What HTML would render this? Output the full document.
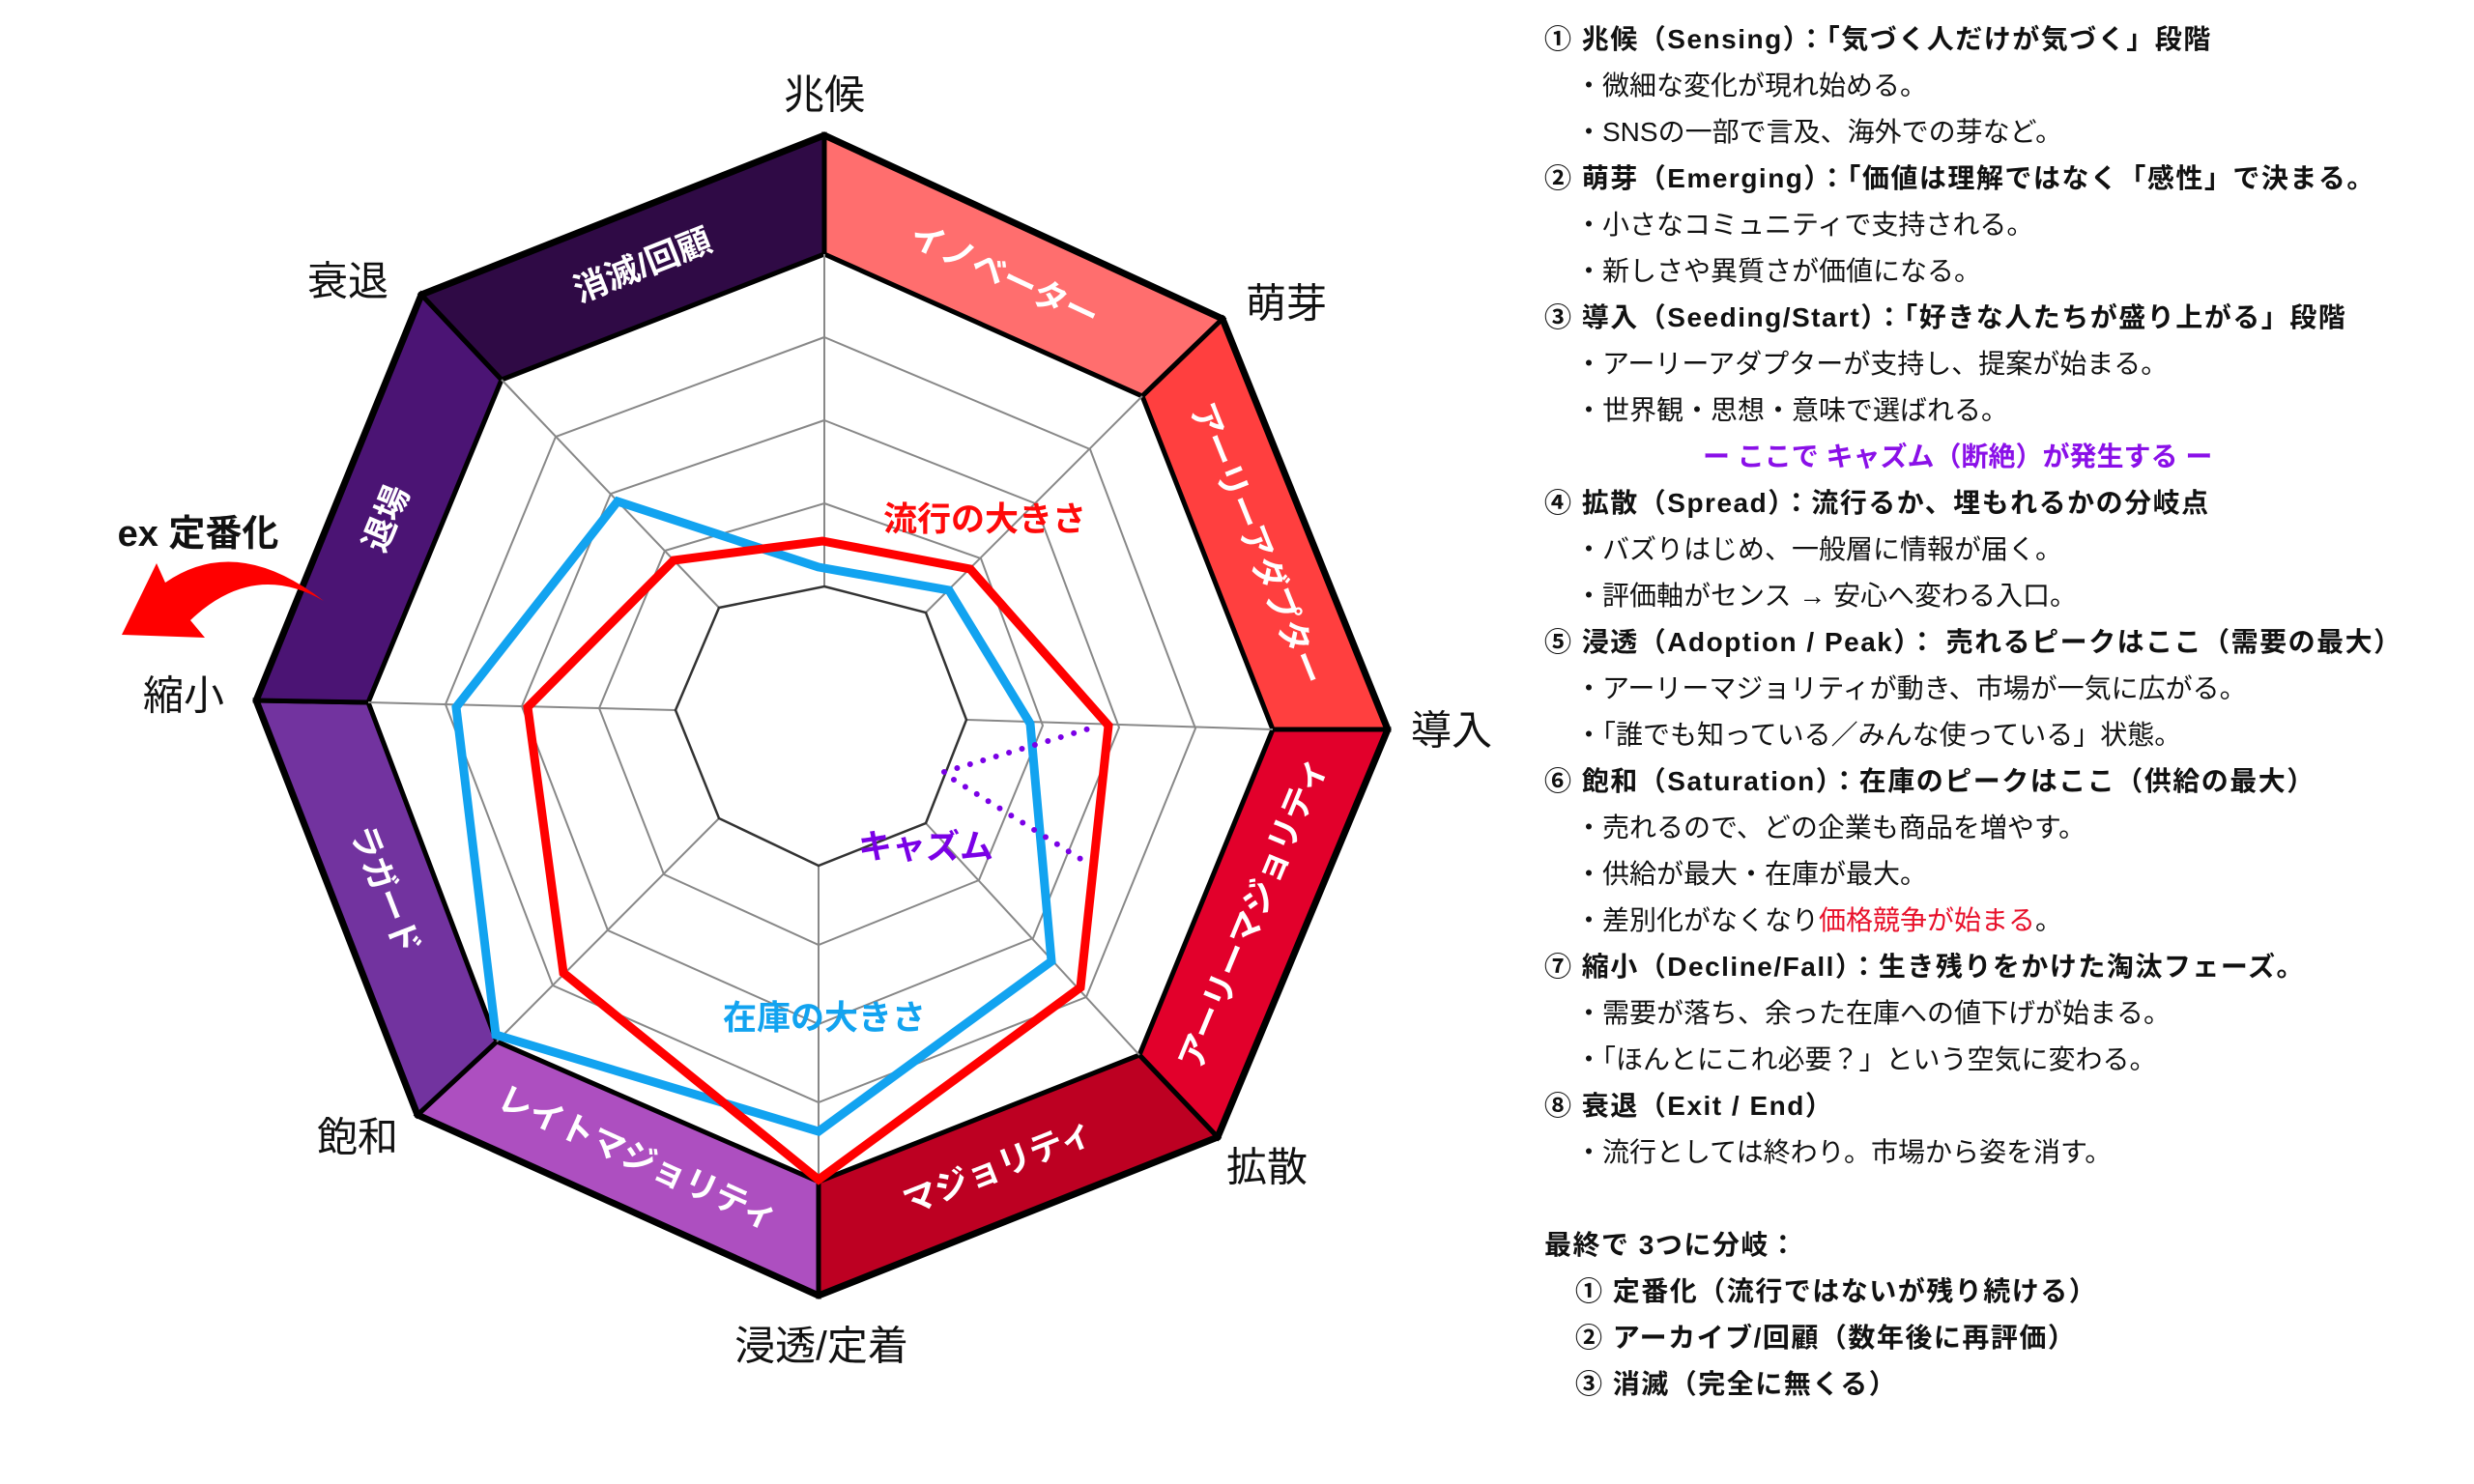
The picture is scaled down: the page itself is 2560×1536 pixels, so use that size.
<!DOCTYPE html>
<html><head><meta charset="utf-8">
<style>
html,body{margin:0;padding:0;background:#fff;}
#wrap{position:relative;width:2560px;height:1536px;overflow:hidden;background:#fff;font-family:"Liberation Sans","Noto Sans CJK JP",sans-serif;}
svg{position:absolute;left:0;top:0;}
.t{position:absolute;white-space:nowrap;font-size:28px;line-height:48px;color:#111;}
.h{font-weight:bold;left:1598px;letter-spacing:1.5px;}
.b{left:1630px;}
.red{color:#e8102a;}
</style></head><body><div id="wrap">
<svg width="2560" height="1536" viewBox="0 0 2560 1536" font-family="Liberation Sans, Noto Sans CJK JP, sans-serif">
<g stroke="#000" stroke-width="5" stroke-linejoin="miter">
<polygon points="853,140 1265,330 1182,410 853,263" fill="#ff6e6e"/>
<polygon points="1265,330 1436,755 1317,755 1182,410" fill="#ff3f3f"/>
<polygon points="1436,755 1260,1177 1179,1092 1317,755" fill="#e2002b"/>
<polygon points="1260,1177 847,1341 847,1223 1179,1092" fill="#bd0022"/>
<polygon points="847,1341 432,1154 514,1078 847,1223" fill="#ad4fc0"/>
<polygon points="432,1154 265,725 381,727 514,1078" fill="#72339f"/>
<polygon points="265,725 436,305 519,393 381,727" fill="#4b1474"/>
<polygon points="436,305 853,140 853,263 519,393" fill="#2f0a45"/>
</g>
<polygon points="853,140 1265,330 1436,755 1260,1177 847,1341 432,1154 265,725 436,305" fill="none" stroke="#000" stroke-width="7" stroke-linejoin="miter"/>
<g fill="none" stroke="#888" stroke-width="2">
<polygon points="853,521 1015,578 1079,751 1013,911 847,978 687,905 620,733 688,570"/>
<polygon points="853,435 1071,521 1158,753 1069,971 847,1060 629,963 540,731 632,511"/>
<polygon points="853,349 1128,465 1237,754 1124,1032 847,1141 572,1020 461,729 575,452"/>
<line x1="853" y1="607" x2="853" y2="263"/>
<line x1="958" y1="634" x2="1182" y2="410"/>
<line x1="1000" y1="745" x2="1317" y2="755"/>
<line x1="958" y1="852" x2="1179" y2="1092"/>
<line x1="847" y1="896" x2="847" y2="1223"/>
<line x1="744" y1="847" x2="514" y2="1078"/>
<line x1="699" y1="735" x2="381" y2="727"/>
<line x1="744" y1="629" x2="519" y2="393"/>
</g>
<polygon points="853,607 958,634 1000,745 958,852 847,896 744,847 699,735 744,629" fill="none" stroke="#333" stroke-width="2.5"/>
<polygon points="847,587 982,611 1066,749 1088,995 847,1171 513,1071 472,732 639,519" fill="none" stroke="#12a3f0" stroke-width="9" stroke-linejoin="miter"/>
<polygon points="851,560 1004,589 1147,751 1118,1022 847,1221 583,1007 546,732 697,580" fill="none" stroke="#ff0000" stroke-width="9" stroke-linejoin="miter"/>
<g stroke="#7a00e6" stroke-width="6" stroke-linecap="round" stroke-dasharray="0 14">
<line x1="977" y1="799" x2="1131" y2="753"/>
<line x1="987" y1="807" x2="1123" y2="892"/>
</g>
<g fill="#fff" font-weight="bold" font-size="35" text-anchor="middle" dominant-baseline="central">
<text transform="translate(1039,286) rotate(25)">イノベーター</text>
<text transform="translate(1300,563) rotate(68)">アーリーアダプター</text>
<text transform="translate(1297,945) rotate(-67.5)">アーリーマジョリティ</text>
<text transform="translate(1033,1208) rotate(-21.7)">マジョリティ</text>
<text transform="translate(660,1199) rotate(24.3)">レイトマジョリティ</text>
<text transform="translate(398,921) rotate(68.7)">ラガード</text>
<text transform="translate(400,537) rotate(-67.5)">退場</text>
<text transform="translate(665,275) rotate(-21.6)">消滅/回顧</text>
</g>
<g fill="#111" font-size="42" text-anchor="middle" dominant-baseline="central">
<text x="853" y="98">兆候</text>
<text x="1331" y="314">萌芽</text>
<text x="1502" y="756">導入</text>
<text x="1311" y="1208">拡散</text>
<text x="850" y="1393">浸透/定着</text>
<text x="370" y="1177">飽和</text>
<text x="190" y="720">縮小</text>
<text x="360" y="291">衰退</text>
</g>
<g font-weight="bold" font-size="35" text-anchor="middle" dominant-baseline="central">
<text x="1019" y="538" fill="#ff0a0a">流行の大きさ</text>
<text x="958" y="877" fill="#7a00e6">キャズム</text>
<text x="853" y="1054" fill="#12a3f0">在庫の大きさ</text>
</g>
<text x="205" y="553" font-weight="bold" font-size="38" fill="#111" text-anchor="middle" dominant-baseline="central">ex 定番化</text>
<path d="M126,657 L162,583 L171,603 Q245,552 335,622 Q262,580 197,642 L212,660 Z" fill="#ff0000"/>
</svg>

<div class="t h" style="top:17px">① 兆候（Sensing）：「気づく人だけが気づく」段階</div>
<div class="t b" style="top:65px">・微細な変化が現れ始める。</div>
<div class="t b" style="top:113px">・SNSの一部で言及、海外での芽など。</div>
<div class="t h" style="top:161px">② 萌芽（Emerging）：「価値は理解ではなく「感性」で決まる。</div>
<div class="t b" style="top:209px">・小さなコミュニティで支持される。</div>
<div class="t b" style="top:257px">・新しさや異質さが価値になる。</div>
<div class="t h" style="top:305px">③ 導入（Seeding/Start）：「好きな人たちが盛り上がる」段階</div>
<div class="t b" style="top:353px">・アーリーアダプターが支持し、提案が始まる。</div>
<div class="t b" style="top:401px">・世界観・思想・意味で選ばれる。</div>
<div class="t" style="top:449px;left:1762px;font-weight:bold;color:#8a10e8">ー ここで キャズム（断絶）が発生する ー</div>
<div class="t h" style="top:497px">④ 拡散（Spread）：流行るか、埋もれるかの分岐点</div>
<div class="t b" style="top:545px">・バズりはじめ、一般層に情報が届く。</div>
<div class="t b" style="top:593px">・評価軸がセンス → 安心へ変わる入口。</div>
<div class="t h" style="top:641px">⑤ 浸透（Adoption / Peak）： 売れるピークはここ（需要の最大）</div>
<div class="t b" style="top:689px">・アーリーマジョリティが動き、市場が一気に広がる。</div>
<div class="t b" style="top:737px">・「誰でも知っている／みんな使っている」状態。</div>
<div class="t h" style="top:785px">⑥ 飽和（Saturation）：在庫のピークはここ（供給の最大）</div>
<div class="t b" style="top:833px">・売れるので、どの企業も商品を増やす。</div>
<div class="t b" style="top:881px">・供給が最大・在庫が最大。</div>
<div class="t b" style="top:929px">・差別化がなくなり<span class="red">価格競争が始まる</span>。</div>
<div class="t h" style="top:977px">⑦ 縮小（Decline/Fall）：生き残りをかけた淘汰フェーズ。</div>
<div class="t b" style="top:1025px">・需要が落ち、余った在庫への値下げが始まる。</div>
<div class="t b" style="top:1073px">・「ほんとにこれ必要？」という空気に変わる。</div>
<div class="t h" style="top:1121px">⑧ 衰退（Exit / End）</div>
<div class="t b" style="top:1169px">・流行としては終わり。市場から姿を消す。</div>
<div class="t h" style="top:1265px">最終で 3つに分岐：</div>
<div class="t" style="top:1313px;left:1630px;font-weight:bold;letter-spacing:1.5px">① 定番化（流行ではないが残り続ける）</div>
<div class="t" style="top:1361px;left:1630px;font-weight:bold;letter-spacing:1.5px">② アーカイブ/回顧（数年後に再評価）</div>
<div class="t" style="top:1409px;left:1630px;font-weight:bold;letter-spacing:1.5px">③ 消滅（完全に無くる）</div>
</div></body></html>
